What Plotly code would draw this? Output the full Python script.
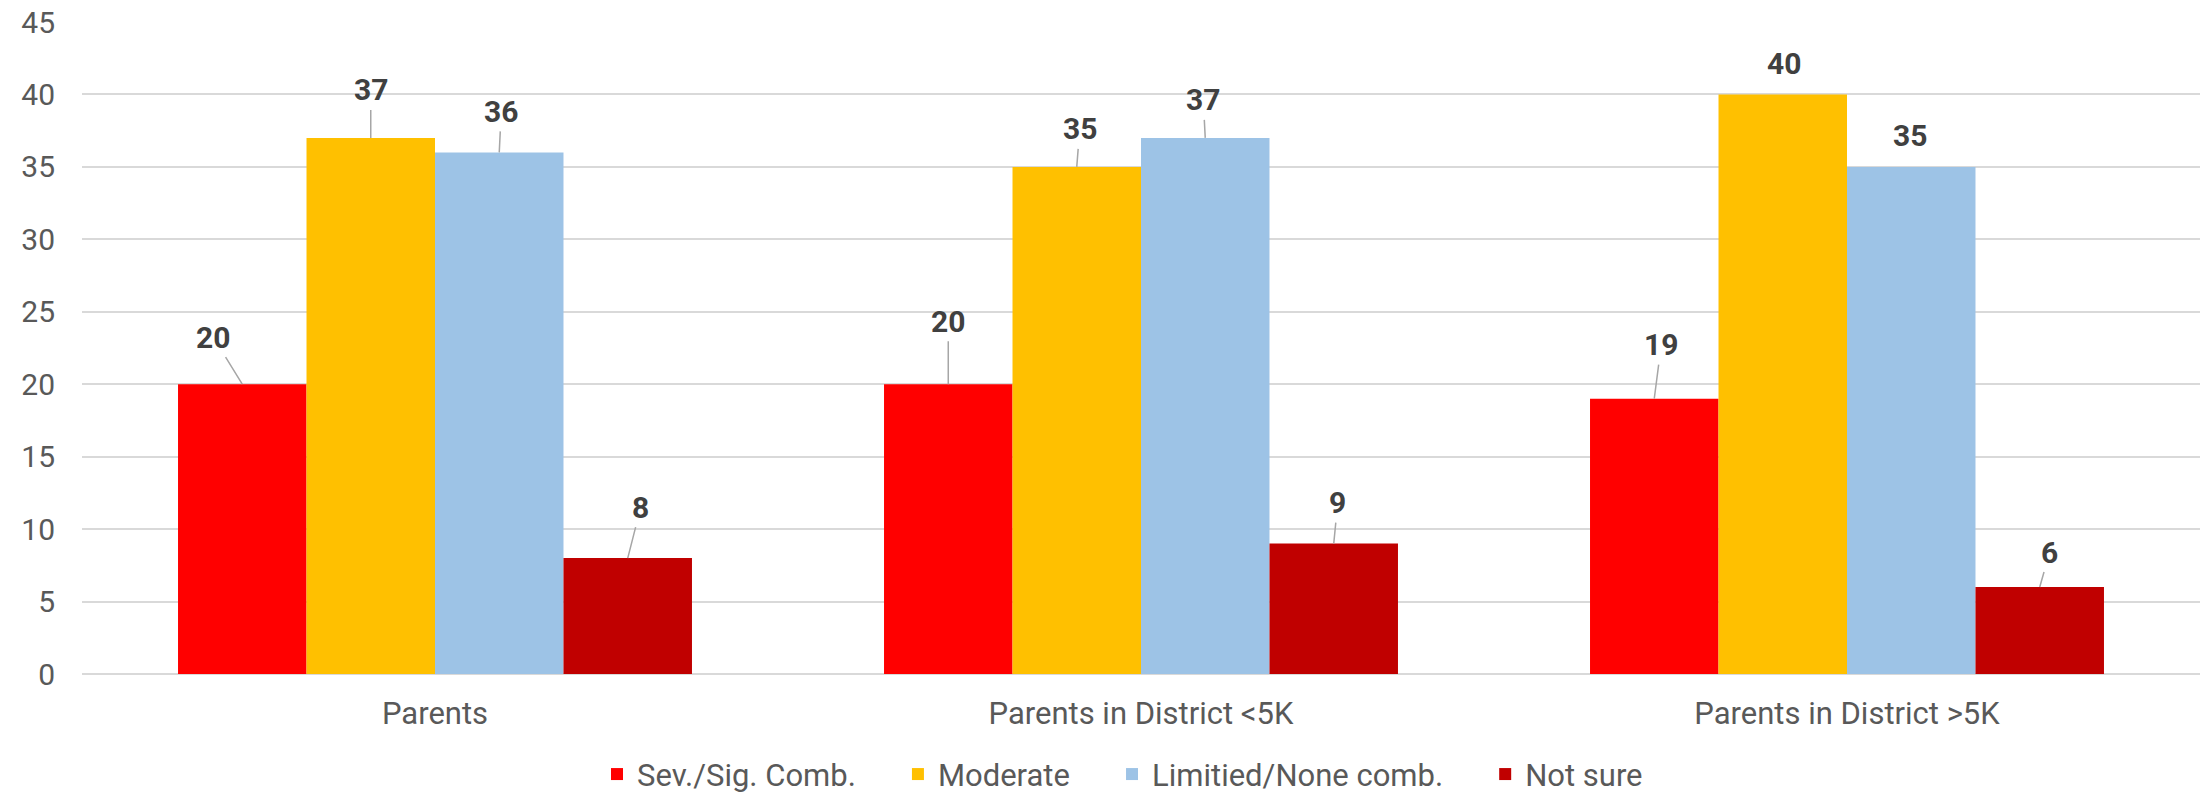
import plotly.graph_objects as go

# Données
categories = ["Parents", "Parents in District <5K", "Parents in District >5K"]
series_names = ["Sev./Sig. Comb.", "Moderate", "Limitied/None comb.", "Not sure"]
sev_sig = [20, 20, 19]
moderate = [37, 35, 40]
limited_none = [36, 37, 35]
not_sure = [8, 9, 6]

colors = ["#FF0000", "#FFC000", "#9DC3E6", "#C00000"]
series_values = [sev_sig, moderate, limited_none, not_sure]

# decalage des etiquettes (ax, ay en px) par serie puis par groupe
label_offsets = [
    [(-29, -47), (0, -63), (7, -54)],
    [(0, -48), (3, -38), (1, -31)],
    [(2, -41), (-2, -38), (-1, -31)],
    [(13, -51), (4, -41), (10, -35)],
]
no_leader = [(1, 2), (2, 2)]  # (serie, groupe) sans trait

pad = "\u00a0" * 4 + "\u2009"  # espace entre les entrees de legende

bargap = 0.272
fig = go.Figure()
for name, vals, col in zip(series_names, series_values, colors):
    fig.add_trace(go.Bar(name=name + pad, x=categories, y=vals, marker_color=col,
                         marker_line_width=0, hovertemplate=name + ": %{y}<extra></extra>"))

n = len(series_names)
for i, vals in enumerate(series_values):
    for g, v in enumerate(vals):
        ax, ay = label_offsets[i][g]
        xpos = g + (i - (n - 1) / 2) * (1 - bargap) / n
        fig.add_annotation(
            x=xpos, y=v, xref="x", yref="y", text=f"<b>{v}</b>",
            showarrow=True, arrowhead=0, arrowwidth=1.5,
            arrowcolor="rgba(0,0,0,0)" if (i, g) in no_leader else "#A6A6A6",
            ax=ax, ay=ay, font=dict(size=30, color="#404040", family="Roboto"),
            borderpad=2,
        )

fig.update_layout(
    width=2201, height=795,
    margin=dict(l=82, r=1, t=22, b=121, autoexpand=False),
    barmode="group", bargap=bargap, bargroupgap=0,
    plot_bgcolor="white", paper_bgcolor="white",
    font=dict(family="Roboto", size=30, color="#595959"),
    legend=dict(orientation="h", x=0.5, xanchor="center", y=-0.154, yanchor="middle",
                font=dict(size=31, color="#595959"), traceorder="normal"),
    showlegend=True,
)
fig.update_yaxes(range=[0, 45], dtick=5, showgrid=True, gridcolor="#D9D9D9", gridwidth=2,
                 zeroline=True, zerolinecolor="#D9D9D9", zerolinewidth=2,
                 tickfont=dict(size=30, color="#595959"), ticks="", ticklabelstandoff=26)
fig.update_xaxes(showgrid=False, showline=False, ticks="", ticklabelstandoff=18,
                 tickfont=dict(size=31, color="#595959"))

fig.write_html("out.html", config={"displayModeBar": False},
               post_script="document.body.style.margin = '0';")
